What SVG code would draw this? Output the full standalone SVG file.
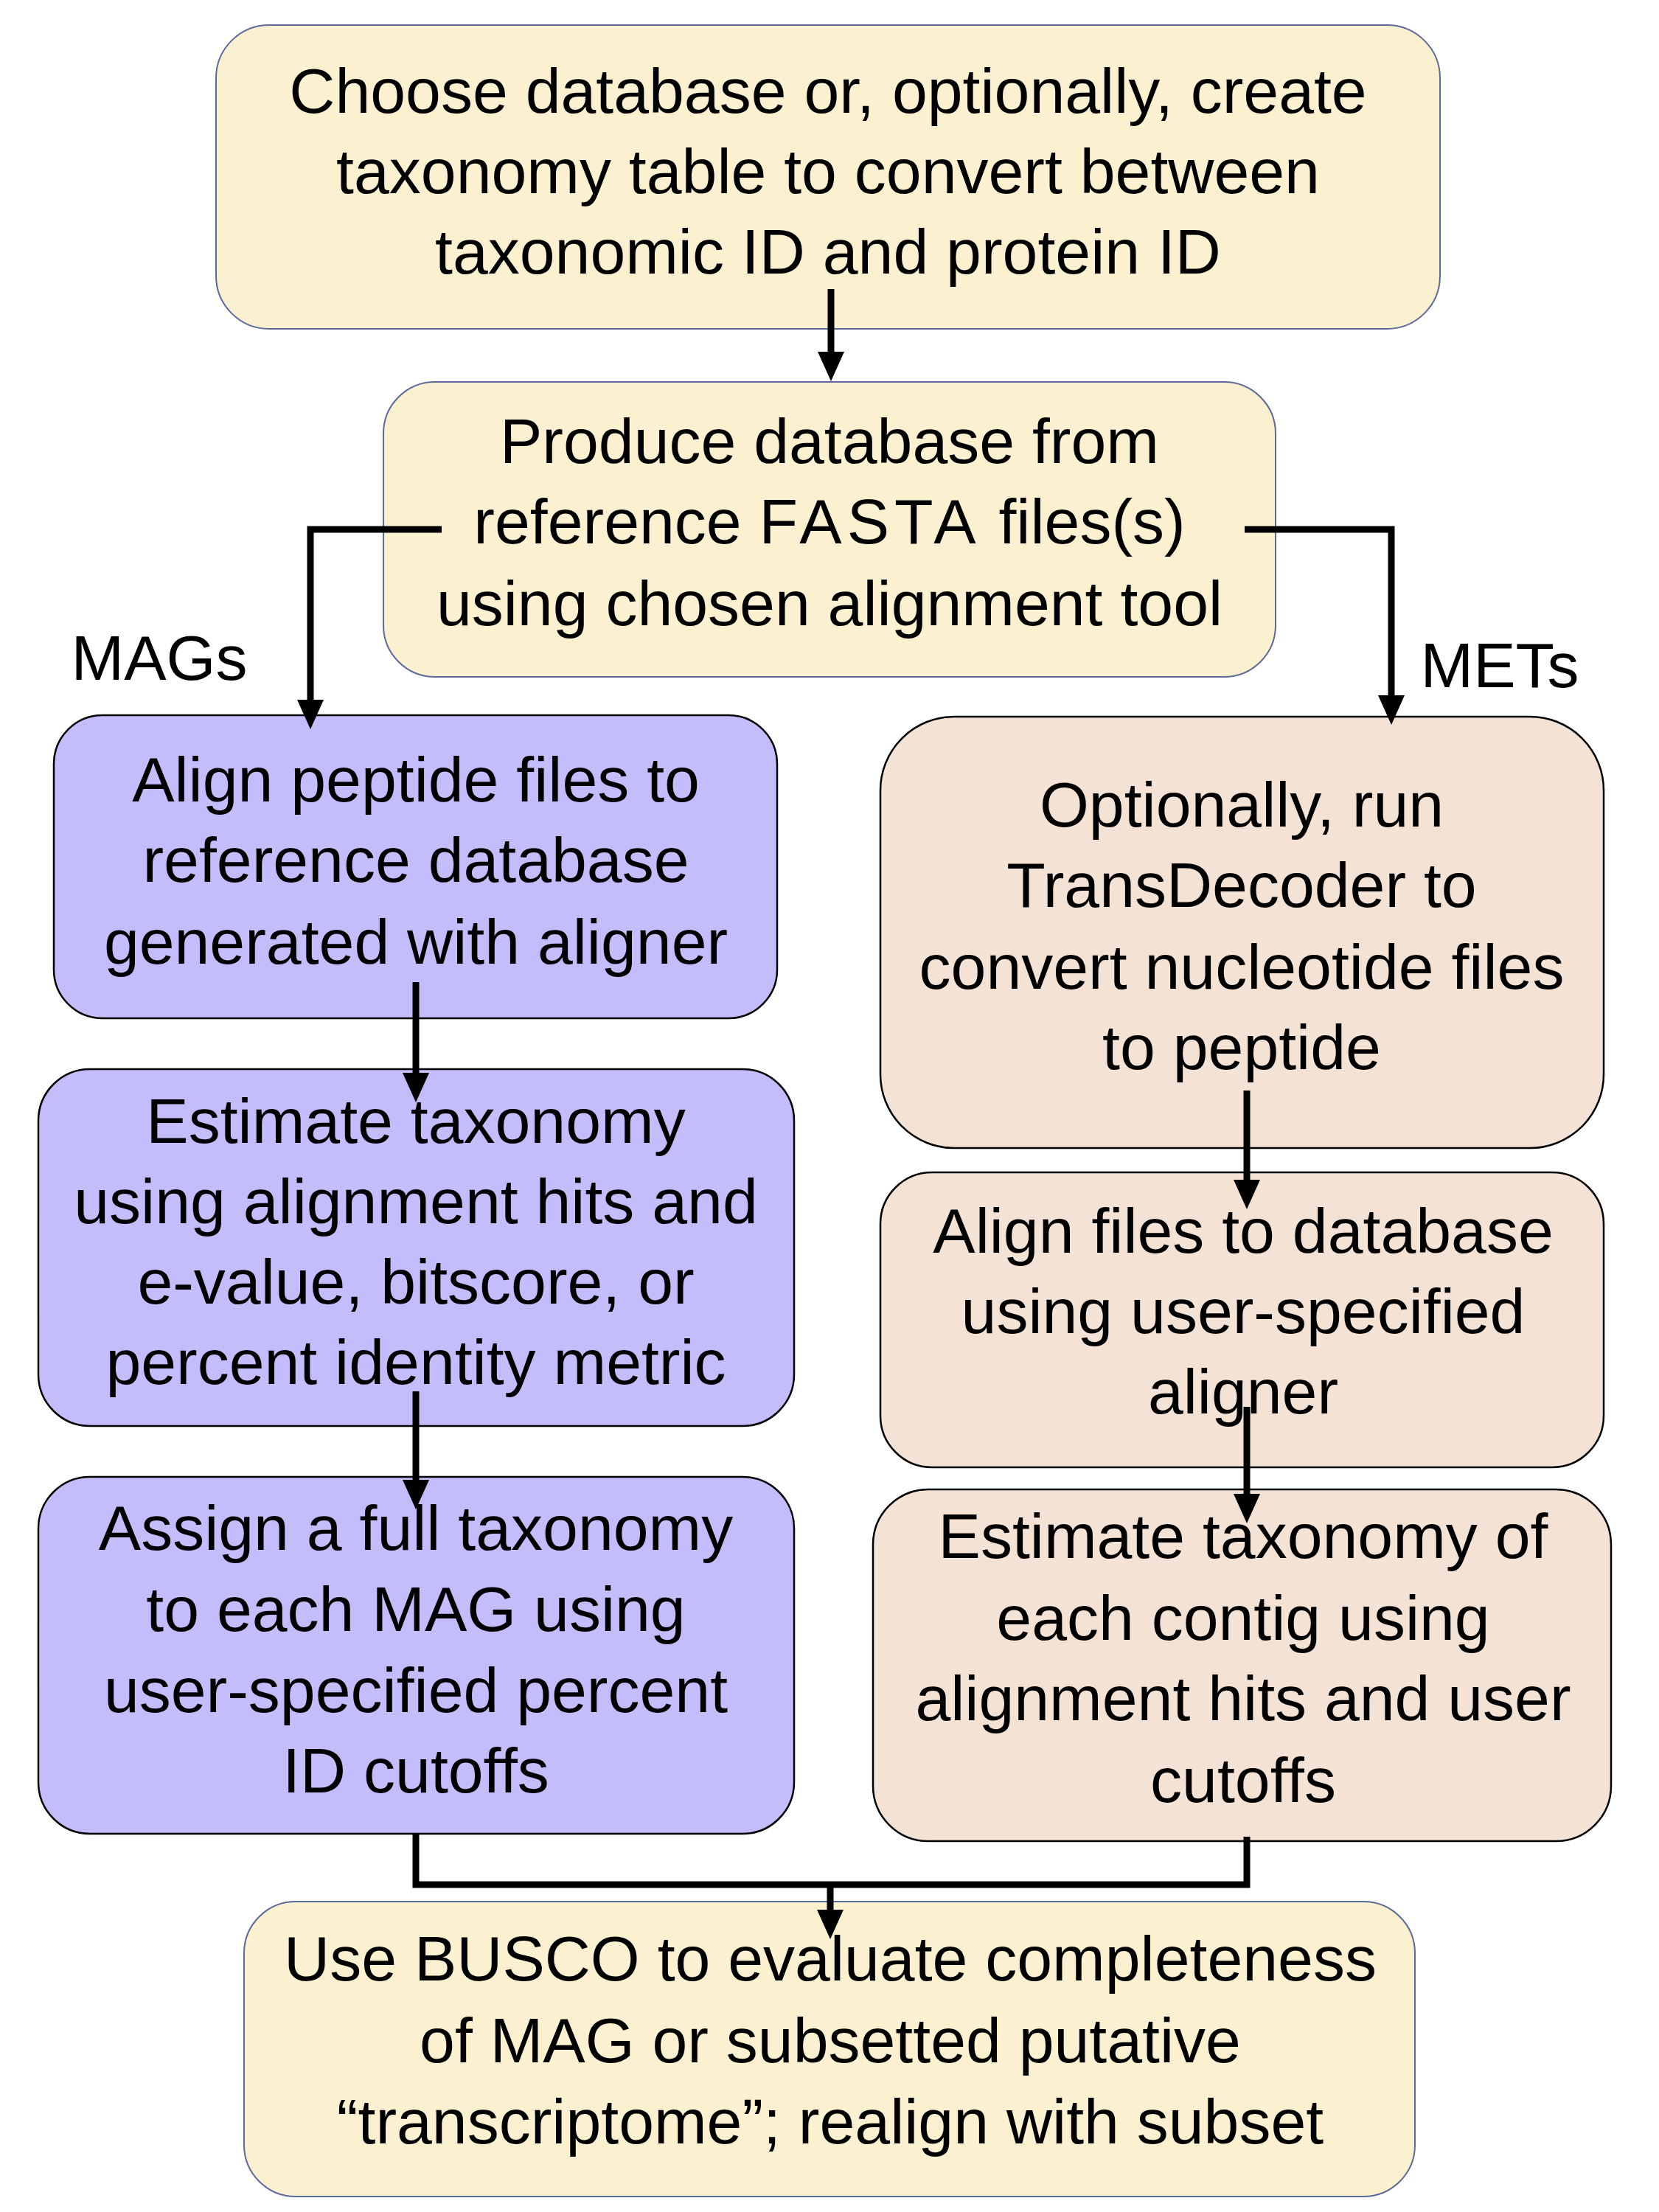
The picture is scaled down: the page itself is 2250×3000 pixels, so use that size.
<svg xmlns="http://www.w3.org/2000/svg" width="2250" height="3000" viewBox="0 0 2250 3000">
<style>
.t{font-family:"Liberation Sans",Arial,sans-serif;font-size:86px;fill:#000;text-anchor:middle}
.y{fill:#FBF0CF;stroke:#5B6A9A;stroke-width:2}
.p{fill:#C4BDFC;stroke:#000;stroke-width:2.5}
.o{fill:#F4E2D5;stroke:#000;stroke-width:2.5}
.c{fill:none;stroke:#000;stroke-width:9}
</style>
<defs>
<marker id="ah" markerUnits="userSpaceOnUse" markerWidth="42" markerHeight="38" viewBox="0 0 42 38" refX="1" refY="19" orient="auto">
<path d="M0,1 L40,19 L0,37 z" fill="#000"/>
</marker>
</defs>
<rect width="2250" height="3000" fill="#fff"/>
<g id="n1"><rect class="y" x="293" y="34" width="1660" height="412" rx="72"/>
<text class="t" x="1123"><tspan x="1123" y="153">Choose database or, optionally, create</tspan><tspan x="1123" y="262">taxonomy table to convert between</tspan><tspan x="1123" y="371">taxonomic ID and protein ID</tspan></text></g>
<g id="n2"><rect class="y" x="520" y="518" width="1210" height="400" rx="70"/>
<text class="t"><tspan x="1125" y="628">Produce database from</tspan><tspan x="1125" y="737">reference <tspan letter-spacing="7">FASTA</tspan> files(s)</tspan><tspan x="1125" y="848">using chosen alignment tool</tspan></text></g>
<g id="l1"><text class="t" x="216" y="922">MAGs</text></g>
<g id="l2"><text class="t" x="2034" y="932">METs</text></g>
<g id="n3"><rect class="p" x="73" y="970" width="981" height="411" rx="66"/>
<text class="t"><tspan x="564" y="1087">Align peptide files to</tspan><tspan x="564" y="1196">reference database</tspan><tspan x="564" y="1307">generated with aligner</tspan></text></g>
<g id="n4"><rect class="p" x="52" y="1450" width="1025" height="484" rx="70"/>
<text class="t"><tspan x="564" y="1550">Estimate taxonomy</tspan><tspan x="564" y="1659">using alignment hits and</tspan><tspan x="564" y="1768">e-value, bitscore, or</tspan><tspan x="564" y="1877">percent identity metric</tspan></text></g>
<g id="n5"><rect class="p" x="52" y="2003" width="1025" height="484" rx="70"/>
<text class="t"><tspan x="564" y="2102">Assign a full taxonomy</tspan><tspan x="564" y="2212">to each MAG using</tspan><tspan x="564" y="2322">user-specified percent</tspan><tspan x="564" y="2431">ID cutoffs</tspan></text></g>
<g id="n6"><rect class="o" x="1194" y="972" width="981" height="585" rx="100"/>
<text class="t"><tspan x="1684" y="1121">Optionally, run</tspan><tspan x="1684" y="1230">TransDecoder to</tspan><tspan x="1684" y="1341">convert nucleotide files</tspan><tspan x="1684" y="1450">to peptide</tspan></text></g>
<g id="n7"><rect class="o" x="1194" y="1590" width="981" height="400" rx="70"/>
<text class="t"><tspan x="1686" y="1699">Align files to database</tspan><tspan x="1686" y="1808">using user-specified</tspan><tspan x="1686" y="1917">aligner</tspan></text></g>
<g id="n8"><rect class="o" x="1184" y="2020" width="1001" height="477" rx="75"/>
<text class="t"><tspan x="1686" y="2113">Estimate taxonomy of</tspan><tspan x="1686" y="2224">each contig using</tspan><tspan x="1686" y="2333">alignment hits and user</tspan><tspan x="1686" y="2444">cutoffs</tspan></text></g>
<g id="n9"><rect class="y" x="331" y="2579" width="1588" height="400" rx="70"/>
<text class="t"><tspan x="1126" y="2686">Use BUSCO to evaluate completeness</tspan><tspan x="1126" y="2797">of MAG or subsetted putative</tspan><tspan x="1126" y="2907">“transcriptome”; realign with subset</tspan></text></g>
<g id="connectors">
<path class="c" d="M1127 392 V478" marker-end="url(#ah)"/>
<path class="c" d="M599 718 H421 V950" marker-end="url(#ah)"/>
<path class="c" d="M1688 718 H1887 V944" marker-end="url(#ah)"/>
<path class="c" d="M564 1332 V1456" marker-end="url(#ah)"/>
<path class="c" d="M564 1887 V2008" marker-end="url(#ah)"/>
<path class="c" d="M1691 1479 V1601" marker-end="url(#ah)"/>
<path class="c" d="M1691 1908 V2027" marker-end="url(#ah)"/>
<path class="c" d="M564 2487 V2556 H1691 V2491"/>
<path class="c" d="M1126 2556 V2591" marker-end="url(#ah)"/>
</g>
</svg>
